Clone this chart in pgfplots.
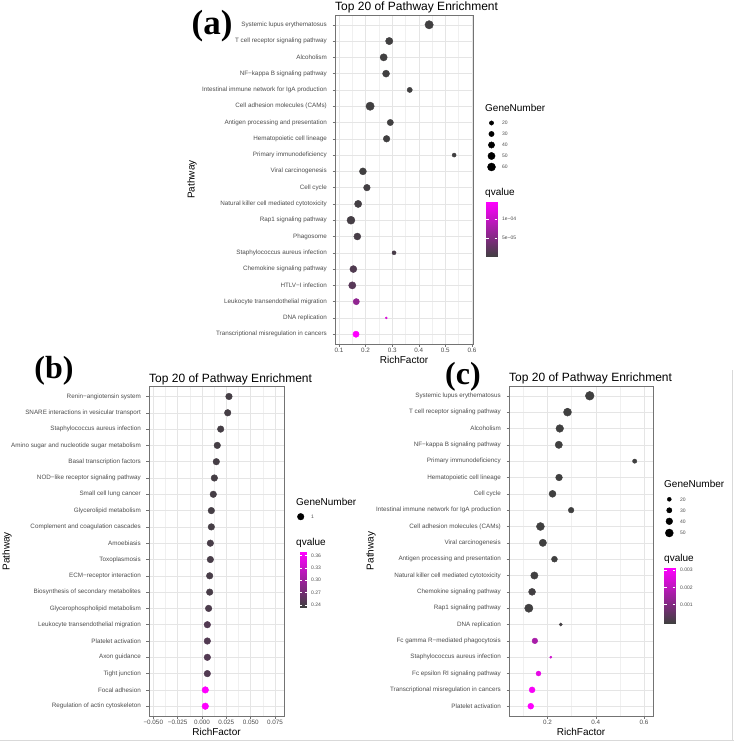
\documentclass[border=0pt]{standalone}
\usepackage{pgfplots}
\pgfplotsset{compat=1.18}
\usepackage{pgfplotstable}
\usepgfplotslibrary{patchplots}
\usepackage{fontspec}
\setmainfont{Liberation Sans}
\newfontfamily\lserif{Liberation Serif}
\newcommand\fs[1]{\fontsize{#1}{#1}\selectfont}

% panel (a): row, RichFactor, GeneNumber, qvalue
\pgfplotstableread{
y x n q
1 0.439 65 1e-6
2 0.289 51 1e-6
3 0.268 50 1e-6
4 0.277 47 1e-6
5 0.366 28 1e-6
6 0.217 65 1e-6
7 0.293 39 1e-6
8 0.279 43 1e-6
9 0.533 18 1e-6
10 0.190 47 1e-6
11 0.205 43 2e-6
12 0.172 50 3e-6
13 0.145 60 4e-6
14 0.169 47 5e-6
15 0.307 18 6e-6
16 0.154 47 1.2e-5
17 0.150 50 1.8e-5
18 0.165 39 6.0e-5
19 0.278 6 1.15e-4
20 0.164 39 1.45e-4
}\tabA

% panel (b)
\pgfplotstableread{
y x n q
1 0.0277 1 0.238
2 0.0264 1 0.238
3 0.0192 1 0.238
4 0.0157 1 0.238
5 0.0147 1 0.238
6 0.0127 1 0.238
7 0.0116 1 0.238
8 0.0096 1 0.238
9 0.0096 1 0.238
10 0.0086 1 0.240
11 0.0086 1 0.240
12 0.0079 1 0.240
13 0.0079 1 0.240
14 0.0068 1 0.243
15 0.0055 1 0.247
16 0.0055 1 0.247
17 0.0055 1 0.247
18 0.0055 1 0.247
19 0.0034 1 0.369
20 0.0034 1 0.369
}\tabB

% panel (c)
\pgfplotstableread{
y x n q
1 0.375 57 1e-6
2 0.283 50 1e-6
3 0.251 47 1e-6
4 0.247 44 1e-6
5 0.561 22 1e-6
6 0.248 39 1e-6
7 0.221 41 1e-6
8 0.298 31 1e-6
9 0.171 50 1e-6
10 0.181 44 1e-6
11 0.229 33 1e-6
12 0.146 44 2e-5
13 0.1365 41 3e-5
14 0.123 53 2e-5
15 0.255 16 5e-5
16 0.148 31 0.0017
17 0.214 11 0.0023
18 0.163 26 0.0027
19 0.1365 33 0.0030
20 0.131 33 0.00313
}\tabC

\pgfplotsset{
  panel/.style={
    scale only axis, y dir=reverse, ymin=0.4, ymax=20.6, ytick={1,2,...,20},
    scaled x ticks=false,
    tick pos=left, tick align=outside, major tick length=2.5pt, minor tick length=0pt,
    grid=both,
    major grid style={black!10, line width=0.5pt},
    minor grid style={black!6, line width=0.3pt},
    axis line style={black!55, line width=0.6pt},
    major tick style={black!55, line width=0.5pt},
    tick label style={black!70, font=\fs{6.3}},
    xticklabel style={inner sep=1pt},
    yticklabel style={inner sep=1.5pt, xshift=-4pt},
    title={Top 20 of Pathway Enrichment},
    every axis title/.style={at={(axis description cs:0,1)}, anchor=base west, font=\fs{12}, yshift=4.5pt, inner sep=0pt},
    xlabel={RichFactor},
    every axis x label/.style={at={(axis description cs:0.5,0)}, anchor=north, inner sep=0pt, yshift=-12pt, font=\fs{10}},
    ylabel={Pathway},
    colormap={qv}{rgb255=(64,64,64) rgb255=(255,0,255)},
  },
  pts/.style={scatter, only marks, mark=*, point meta=\thisrow{q},
    scatter/use mapped color={draw=mapped color, fill=mapped color}},
}
\tikzset{
  lbl/.style={anchor=west, font=\fs{5}, text=black!70, inner sep=0pt},
  ttl/.style={anchor=base west, font=\fs{10}, inner sep=0pt},
}

\begin{document}
\begin{tikzpicture}
\useasboundingbox (0,0) rectangle (734pt,742pt);

% ---------------- panel (a)
\begin{axis}[panel, at={(335pt,398pt)}, anchor=south west, width=138pt, height=329pt,
  xmin=0.085, xmax=0.604, xtick={0.1,0.2,0.3,0.4,0.5,0.6}, xticklabels={0.1,0.2,0.3,0.4,0.5,0.6},
  minor xtick={0.15,0.25,0.35,0.45,0.55},
  yticklabels={Systemic lupus erythematosus, T cell receptor signaling pathway, Alcoholism, NF−kappa B signaling pathway, Intestinal immune network for IgA production, Cell adhesion molecules (CAMs), Antigen processing and presentation, Hematopoietic cell lineage, Primary immunodeficiency, Viral carcinogenesis, Cell cycle, Natural killer cell mediated cytotoxicity, Rap1 signaling pathway, Phagosome, Staphylococcus aureus infection, Chemokine signaling pathway, HTLV−I infection, Leukocyte transendothelial migration, DNA replication, Transcriptional misregulation in cancers},
  every axis y label/.style={at={(axis description cs:-1.036,0.5)}, rotate=90, anchor=center, font=\fs{10}},
  point meta min=0, point meta max=1.45e-4]
\addplot[pts, visualization depends on={(-0.74+1.128*sqrt(\thisrow{n}))/2 \as \rad},
  scatter/@pre marker code/.append style={/tikz/mark size=\rad}]
  table[x=x, y=y] {\tabA};
\end{axis}

% ---------------- panel (b)
\begin{axis}[panel, at={(149pt,26pt)}, anchor=south west, width=135pt, height=329.3pt,
  xmin=-0.0544, xmax=0.0842, xtick={-0.05,-0.025,0,0.025,0.05,0.075},
  xticklabels={−0.050,−0.025,0.000,0.025,0.050,0.075},
  minor xtick={-0.0375,-0.0125,0.0125,0.0375,0.0625},
  yticklabels={Renin−angiotensin system, SNARE interactions in vesicular transport, Staphylococcus aureus infection, Amino sugar and nucleotide sugar metabolism, Basal transcription factors, NOD−like receptor signaling pathway, Small cell lung cancer, Glycerolipid metabolism, Complement and coagulation cascades, Amoebiasis, Toxoplasmosis, ECM−receptor interaction, Biosynthesis of secondary metabolites, Glycerophospholipid metabolism, Leukocyte transendothelial migration, Platelet activation, Axon guidance, Tight junction, Focal adhesion, Regulation of actin cytoskeleton},
  every axis y label/.style={at={(axis description cs:-1.052,0.5)}, rotate=90, anchor=center, font=\fs{10}},
  point meta min=0.2344, point meta max=0.3698]
\addplot[pts, mark size=3.3pt] table[x=x, y=y] {\tabB};
\end{axis}

% ---------------- panel (c)
\begin{axis}[panel, at={(509pt,26pt)}, anchor=south west, width=144.3pt, height=330pt,
  xmin=0.041, xmax=0.638, xtick={0.2,0.4,0.6}, xticklabels={0.2,0.4,0.6},
  minor xtick={0.1,0.3,0.5},
  yticklabels={Systemic lupus erythematosus, T cell receptor signaling pathway, Alcoholism, NF−kappa B signaling pathway, Primary immunodeficiency, Hematopoietic cell lineage, Cell cycle, Intestinal immune network for IgA production, Cell adhesion molecules (CAMs), Viral carcinogenesis, Antigen processing and presentation, Natural killer cell mediated cytotoxicity, Chemokine signaling pathway, Rap1 signaling pathway, DNA replication, Fc gamma R−mediated phagocytosis, Staphylococcus aureus infection, Fc epsilon RI signaling pathway, Transcriptional misregulation in cancers, Platelet activation},
  every axis y label/.style={at={(axis description cs:-0.956,0.5)}, rotate=90, anchor=center, font=\fs{10}},
  point meta min=0, point meta max=0.00313]
\addplot[pts, visualization depends on={(-2.88+1.538*sqrt(\thisrow{n}))/2 \as \rad},
  scatter/@pre marker code/.append style={/tikz/mark size=\rad}]
  table[x=x, y=y] {\tabC};
\end{axis}

% ---------------- legends, colour bars and panel letters (1 unit = 1pt)
\begin{axis}[at={(0pt,0pt)}, anchor=south west, scale only axis, width=734pt, height=742pt,
  xmin=0, xmax=734, ymin=0, ymax=742, hide axis, clip=false,
  colormap={qv}{rgb255=(64,64,64) rgb255=(255,0,255)},
  point meta min=0, point meta max=1]
% colour bars
\addplot[patch, patch type=rectangle, shader=interp, point meta=explicit]
  coordinates {(486,485) [0] (497,485) [0] (497,540) [1] (486,540) [1]};
\addplot[patch, patch type=rectangle, shader=interp, point meta=explicit]
  coordinates {(300,134.7) [0] (306.7,134.7) [0] (306.7,190.3) [1] (300,190.3) [1]};
\addplot[patch, patch type=rectangle, shader=interp, point meta=explicit]
  coordinates {(664,118.7) [0] (675.3,118.7) [0] (675.3,174.3) [1] (664,174.3) [1]};
% size legend (a)
\addplot[only marks, mark=*, black, mark size=2.15pt] coordinates {(491.5,619)};
\addplot[only marks, mark=*, black, mark size=2.65pt] coordinates {(491.5,608)};
\addplot[only marks, mark=*, black, mark size=3.15pt] coordinates {(491.5,597)};
\addplot[only marks, mark=*, black, mark size=3.6pt] coordinates {(491.5,586)};
\addplot[only marks, mark=*, black, mark size=4pt] coordinates {(491.5,575)};
% size legend (b)
\addplot[only marks, mark=*, black, mark size=3.3pt] coordinates {(300.7,225.3)};
% size legend (c)
\addplot[only marks, mark=*, black, mark size=2pt] coordinates {(669.3,242.7)};
\addplot[only marks, mark=*, black, mark size=2.65pt] coordinates {(669.3,231.7)};
\addplot[only marks, mark=*, black, mark size=3.35pt] coordinates {(669.3,220.7)};
\addplot[only marks, mark=*, black, mark size=4pt] coordinates {(669.3,209)};

\draw[white, line width=0.5pt] (486,523)--(488.5,523) (494.5,523)--(497,523)
  (486,504)--(488.5,504) (494.5,504)--(497,504);
\draw[white, line width=0.5pt] (300,186.3)--(301.5,186.3) (305.2,186.3)--(306.7,186.3)
  (300,174)--(301.5,174) (305.2,174)--(306.7,174)
  (300,162)--(301.5,162) (305.2,162)--(306.7,162)
  (300,149.7)--(301.5,149.7) (305.2,149.7)--(306.7,149.7)
  (300,137)--(301.5,137) (305.2,137)--(306.7,137);
\draw[white, line width=0.5pt] (664,172)--(666.5,172) (672.8,172)--(675.3,172)
  (664,154.7)--(666.5,154.7) (672.8,154.7)--(675.3,154.7)
  (664,137.3)--(666.5,137.3) (672.8,137.3)--(675.3,137.3);

\node[ttl] at (485,630) {GeneNumber};
\node[ttl] at (485,546) {qvalue};
\node[lbl] at (502,619) {20};
\node[lbl] at (502,608) {30};
\node[lbl] at (502,597) {40};
\node[lbl] at (502,586) {50};
\node[lbl] at (502,575) {60};
\node[lbl] at (502,523) {1e−04};
\node[lbl] at (502,504) {5e−05};

\node[ttl] at (296,236.5) {GeneNumber};
\node[ttl] at (296,196) {qvalue};
\node[lbl] at (311,225.3) {1};
\node[lbl] at (311,186.3) {0.36};
\node[lbl] at (311,174) {0.33};
\node[lbl] at (311,162) {0.30};
\node[lbl] at (311,149.7) {0.27};
\node[lbl] at (311,137) {0.24};

\node[ttl] at (664,254) {GeneNumber};
\node[ttl] at (664,180) {qvalue};
\node[lbl] at (680,242.7) {20};
\node[lbl] at (680,231.7) {30};
\node[lbl] at (680,220.7) {40};
\node[lbl] at (680,209) {50};
\node[lbl] at (680,172) {0.003};
\node[lbl] at (680,154.7) {0.002};
\node[lbl] at (680,137.3) {0.001};

\node[inner sep=0pt, font=\lserif\bfseries\fs{35}] at (212,716) {(a)};
\node[inner sep=0pt, font=\lserif\bfseries\fs{32}] at (54,371.5) {(b)};
\node[inner sep=0pt, font=\lserif\bfseries\fs{32}] at (463,365) {(c)};
\draw[black!15, line width=0.6pt] (0,1.5)--(734,1.5) (732.5,1.5)--(732.5,372);
\end{axis}
\end{tikzpicture}
\end{document}
